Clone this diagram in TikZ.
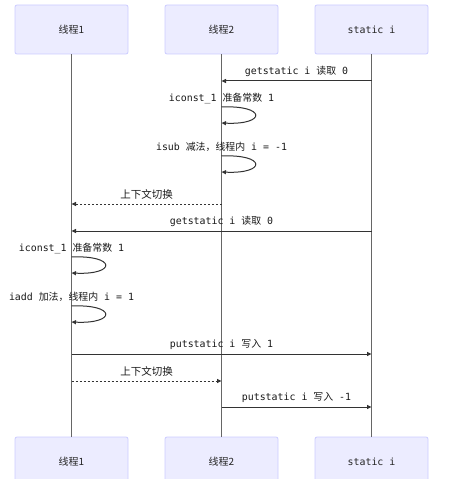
\documentclass[tikz,border=0pt]{standalone}
\usepackage{fontspec}
\setmonofont{DejaVu Sans Mono}
\newfontfamily\cjk{Noto Sans CJK SC}
\usetikzlibrary{arrows.meta,calc}
\newcommand\cj[1]{{\cjk #1}}
\definecolor{boxfill}{HTML}{ECECFF}
\definecolor{boxline}{HTML}{CCCCFF}
\definecolor{lifecol}{HTML}{666666}
\definecolor{msgcol}{HTML}{333333}
\begin{document}
\begin{tikzpicture}[x=1pt,y=-1pt,
  actor/.style={draw=boxline,fill=boxfill,rounded corners=2pt,line width=0.8pt,minimum width=113pt,minimum height=49pt,inner sep=0pt,font=\cjk\fontsize{10}{12}\selectfont,text=black!85},
  lifeline/.style={draw=lifecol,line width=1.5pt},
  msg/.style={draw=msgcol,line width=1pt,-{Triangle[length=4.5pt,width=4pt]}},
  dmsg/.style={msg,dash pattern=on 2pt off 2pt},
  lbl/.style={font=\ttfamily\fontsize{9.9}{11}\selectfont,text=black!90,inner sep=0pt}
]
\useasboundingbox (0,0) rectangle (454,486);
% top actors
\node[actor] (t1) at (71.5,29.5) {线程1};
\node[actor] (t2) at (221.5,29.5) {线程2};
\node[actor,font=\ttfamily\fontsize{9.9}{11}\selectfont] (si) at (371.5,29.5) {static i};
% bottom actors (cut at the bottom edge)
\begin{scope}
\clip (0,0) rectangle (454,478);
\node[actor] (b1) at (71.5,461.5) {线程1};
\node[actor] (b2) at (221.5,461.5) {线程2};
\node[actor,font=\ttfamily\fontsize{9.9}{11}\selectfont] (bsi) at (371.5,461.5) {static i};
\end{scope}
% lifelines
\draw[lifeline] (t1.south) -- (b1.north);
\draw[lifeline] (t2.south) -- (b2.north);
\draw[lifeline] (si.south) -- (bsi.north);
% messages
\draw[msg] (si.south |- 0,81) -- node[lbl,above=4pt] {getstatic i \cj{读取} 0} (t2.south |- 0,81);
% self loop thread2: iconst_1
\node[lbl] (l1) at (221.5,98) {iconst\_1 \cj{准备常数} 1};
\coordinate (a1) at (t2.south |- 0,107);
\coordinate (a2) at (t2.south |- 0,123);
\draw[msg] (a1) .. controls ++(45,-2) and ++(45,2) .. (a2);
% isub
\node[lbl] (l2) at (221.5,147) {isub \cj{减法，线程内} i = -1};
\coordinate (c1) at (t2.south |- 0,156);
\coordinate (c2) at (t2.south |- 0,172);
\draw[msg] (c1) .. controls ++(45,-2) and ++(45,2) .. (c2);
% context switch
\draw[dmsg] (t2.south |- 0,204) -- node[lbl,above=4pt,font=\cjk\fontsize{10.5}{12}\selectfont] {上下文切换} (t1.south |- 0,204);
% getstatic to thread1
\draw[msg] (si.south |- 0,231) -- node[lbl,above=4pt,pos=0.5] {getstatic i \cj{读取} 0} (t1.south |- 0,231);
% thread1 iconst_1
\node[lbl] (l3) at (71.5,248) {iconst\_1 \cj{准备常数} 1};
\coordinate (d1) at (t1.south |- 0,257);
\coordinate (d2) at (t1.south |- 0,273);
\draw[msg] (d1) .. controls ++(45,-2) and ++(45,2) .. (d2);
% iadd
\node[lbl] (l4) at (71.5,297) {iadd \cj{加法，线程内} i = 1};
\coordinate (e1) at (t1.south |- 0,306);
\coordinate (e2) at (t1.south |- 0,322);
\draw[msg] (e1) .. controls ++(45,-2) and ++(45,2) .. (e2);
% putstatic 1
\draw[msg] (t1.south |- 0,354) -- node[lbl,above=4pt] {putstatic i \cj{写入} 1} (si.south |- 0,354);
% context switch
\draw[dmsg] (t1.south |- 0,381) -- node[lbl,above=4pt,font=\cjk\fontsize{10.5}{12}\selectfont] {上下文切换} (t2.south |- 0,381);
% putstatic -1
\draw[msg] (t2.south |- 0,407) -- node[lbl,above=4pt] {putstatic i \cj{写入} -1} (si.south |- 0,407);
\end{tikzpicture}
\end{document}
